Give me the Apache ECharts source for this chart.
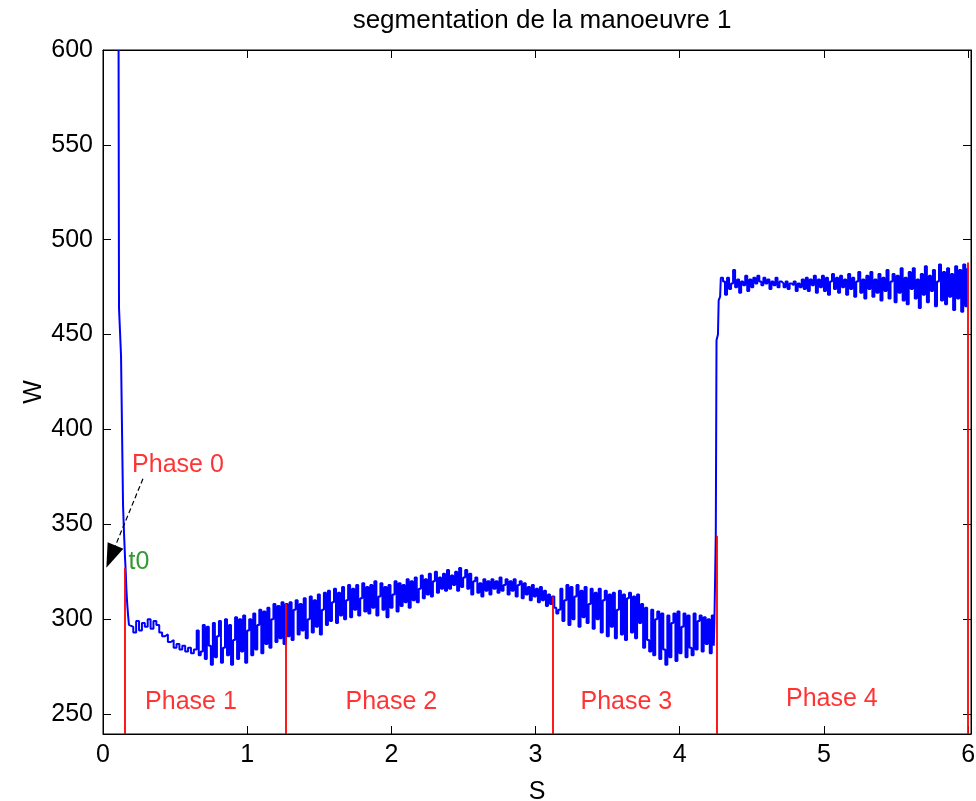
<!DOCTYPE html>
<html><head><meta charset="utf-8">
<script src="https://cdn.jsdelivr.net/npm/echarts@6/dist/echarts.min.js"></script>
<style>html,body{margin:0;padding:0;background:#fff}#c{width:976px;height:801px}</style>
</head><body><div id="c"></div><script>
const titleText = 'segmentation de la manoeuvre 1';
const xName = 'S';
const yName = 'W';
const xTicks = [0, 1, 2, 3, 4, 5, 6];
const yTicks = [250, 300, 350, 400, 450, 500, 550, 600];

// initial transient (time, watts)
const transientT = [0.108, 0.111, 0.122, 0.125, 0.136, 0.139, 0.146, 0.153, 0.157, 0.162, 0.168, 0.174, 0.180];
const transientW = [600, 464, 463, 439, 438, 360, 345, 332, 326, 316, 308, 302, 297];

const settleStep = 0.02;
const settleStart = 0.19;
const settleW = [296, 293, 299, 294, 298, 296, 300, 295, 299, 297, 293, 291, 292, 288, 289, 285, 287, 284, 286, 283, 285, 282, 284];

const oscStep = 0.014;
const phase1Start = 0.65;
const phase1W = [294, 281, 283, 297, 279, 296, 286, 276, 298, 280,
  291, 299, 277, 285, 300, 281, 297, 276, 289, 301,
  279, 300, 283, 302, 277, 294, 300, 281, 303, 284,
  297, 305, 282, 304, 287, 306, 285, 300, 308, 288,
  307, 290, 309, 287, 308];

const phase2Start = 1.28;
const phase2W = [291, 309, 289, 305, 310, 292, 308, 294, 311, 290,
  300, 312, 293, 310, 296, 313, 292, 305, 314, 297,
  315, 299, 309, 316, 298, 314, 302, 317, 300, 310,
  318, 301, 316, 305, 318, 302, 311, 319, 304, 317,
  303, 318, 306, 320, 302, 312, 319, 305, 317, 301,
  318, 306, 313, 320, 304, 319, 307, 318, 309, 321,
  306, 320, 310, 322, 309, 316, 323, 311, 321, 313,
  324, 312, 320, 325, 314, 322, 316, 324, 315, 326,
  316, 323, 318, 325, 315, 327, 317, 322, 326, 316,
  324, 313, 320, 322, 314, 319, 312, 321, 315, 320,
  313, 321, 316, 320, 314, 322, 315, 318, 321, 313,
  320, 315, 321, 312, 318, 320, 311, 319, 313, 317,
  310, 318, 312, 316, 309, 317, 310, 315, 307, 313,
  308, 312];

const phase3Start = 3.13;
const phase3W = [306, 303, 305, 316, 299, 310, 318, 297, 317, 300,
  312, 318, 296, 315, 301, 317, 298, 308, 316, 295,
  314, 300, 316, 293, 310, 315, 291, 313, 296, 314,
  290, 305, 315, 292, 313, 289, 311, 314, 293, 312,
  290, 313, 298, 308, 285, 306, 289, 283, 305, 281,
  300, 304, 279, 303, 284, 276, 302, 280, 298, 303,
  278, 304, 282, 296, 303, 280, 302, 285, 281, 303,
  284, 299, 302, 283, 301, 287, 300, 282, 302, 286];

const jumpT = [4.240, 4.245, 4.250, 4.255, 4.265, 4.270, 4.280, 4.285];
const jumpW = [298, 320, 345, 447, 450, 468, 470, 480];

const phase4Start = 4.30;
const phase4W = [478, 471, 480, 474, 477, 484, 475, 479, 472, 478,
  476, 481, 473, 479, 475, 480, 477, 481, 478, 476,
  480, 477, 479, 474, 478, 476, 480, 475, 478, 477,
  475, 478, 474, 477, 476, 478, 473, 477, 475, 479,
  474, 480, 473, 479, 476, 481, 472, 479, 475, 481,
  473, 480, 471, 478, 482, 474, 480, 472, 481, 475,
  479, 471, 482, 474, 480, 470, 478, 483, 472, 479,
  469, 481, 474, 483, 470, 479, 472, 482, 468, 480,
  473, 484, 469, 478, 482, 467, 481, 472, 485, 468,
  480, 466, 483, 474, 485, 469, 479, 464, 482, 471,
  486, 467, 481, 473, 484, 465, 478, 487, 468, 483,
  466, 485, 470, 482, 463, 486, 469, 484, 462, 487,
  465, 485];

// phase boundaries (red vertical lines)
const boundaryT = [0.153, 1.27, 3.12, 4.258, 6.0];
const boundaryTop = [327, 308, 312, 344, 488];

// annotations
const phaseLabels = ['Phase 0', 'Phase 1', 'Phase 2', 'Phase 3', 'Phase 4'];
const phaseLabelT = [0.52, 0.61, 2.0, 3.63, 5.055];
const phaseLabelW = [381.3, 256.5, 256.5, 256.5, 258];
const t0Label = 't0';
const t0Pos = [0.25, 330];
const arrowFrom = [0.277, 374];
const arrowTo = [0.055, 333];

const X_MIN = 0, X_MAX = 6.02, Y_MIN = 239.5, Y_MAX = 600;

function seg(start, st, vals) { return vals.map((v, i) => [+(start + i * st).toFixed(4), v]); }
const signal = []
  .concat(transientT.map((t, i) => [t, transientW[i]]))
  .concat(seg(settleStart, settleStep, settleW))
  .concat(seg(phase1Start, oscStep, phase1W))
  .concat(seg(phase2Start, oscStep, phase2W))
  .concat(seg(phase3Start, oscStep, phase3W))
  .concat(jumpT.map((t, i) => [t, jumpW[i]]))
  .concat(seg(phase4Start, oscStep, phase4W));

const FONT = 'Liberation Sans, Arial, Helvetica, sans-serif';
const axisLineStyle = { show: true, onZero: false, lineStyle: { color: '#000', width: 1 } };
const tickStyle = (vals) => ({ show: true, inside: true, length: 8, customValues: vals, lineStyle: { color: '#000', width: 1 } });

const chart = echarts.init(document.getElementById('c'), null, { renderer: 'canvas' });
chart.setOption({
  animation: false,
  backgroundColor: '#fff',
  title: {
    text: titleText, left: 537, top: 3, textAlign: 'center',
    textStyle: { fontFamily: FONT, fontSize: 26, fontWeight: 'normal', color: '#000' }
  },
  grid: { left: 103, right: 5, top: 50, bottom: 67, containLabel: false, outerBoundsMode: 'none',
    show: true, borderColor: '#000', borderWidth: 1, backgroundColor: 'transparent' },
  xAxis: [
    {
      type: 'value', min: X_MIN, max: X_MAX, position: 'bottom',
      name: xName, nameLocation: 'middle', nameGap: 46,
      nameTextStyle: { fontFamily: FONT, fontSize: 25, color: '#000' },
      axisLine: axisLineStyle, splitLine: { show: false },
      axisTick: tickStyle(xTicks),
      axisLabel: { show: true, customValues: xTicks, margin: 9, fontFamily: FONT, fontSize: 25, color: '#000' }
    },
    {
      type: 'value', min: X_MIN, max: X_MAX, position: 'top',
      axisLine: axisLineStyle, splitLine: { show: false },
      axisTick: tickStyle(xTicks),
      axisLabel: { show: false }
    }
  ],
  yAxis: [
    {
      type: 'value', min: Y_MIN, max: Y_MAX, position: 'left',
      name: yName, nameLocation: 'middle', nameGap: 56, nameRotate: 90, nameMoveOverlap: false,
      nameTextStyle: { fontFamily: FONT, fontSize: 25, color: '#000' },
      axisLine: axisLineStyle, splitLine: { show: false },
      axisTick: tickStyle(yTicks),
      axisLabel: { show: true, customValues: yTicks, margin: 10, fontFamily: FONT, fontSize: 25, color: '#000' }
    },
    {
      type: 'value', min: Y_MIN, max: Y_MAX, position: 'right',
      axisLine: axisLineStyle, splitLine: { show: false },
      axisTick: tickStyle(yTicks),
      axisLabel: { show: false }
    }
  ],
  series: [
    {
      name: 'signal', type: 'line', data: signal, showSymbol: false, symbol: 'none', step: 'end',
      lineStyle: { color: '#0000ff', width: 2 }, silent: true, z: 2
    },
    {
      name: 'boundaries', type: 'line', data: [], silent: true, z: 3,
      markLine: {
        silent: true, symbol: ['none', 'none'], animation: false,
        label: { show: false },
        lineStyle: { color: '#ff0000', width: 1.8, type: 'solid' },
        data: boundaryT.map((t, i) => [{ coord: [t, Y_MIN] }, { coord: [t, boundaryTop[i]] }])
      }
    },
    {
      name: 'arrow', type: 'line', data: [], silent: true, z: 4,
      markLine: {
        silent: true, symbol: ['none', 'triangle'], symbolSize: [17, 24], animation: false,
        label: { show: false },
        lineStyle: { color: '#000', width: 1.2, type: [5, 3] },
        itemStyle: { color: '#000' },
        data: [[{ coord: arrowFrom }, { coord: arrowTo }]]
      }
    },
    {
      name: 'labels', type: 'scatter', symbolSize: 1, silent: true, z: 5,
      itemStyle: { color: 'rgba(0,0,0,0)' },
      label: {
        show: true, position: 'inside', fontFamily: FONT, fontSize: 25,
        formatter: p => p.data.name
      },
      data: phaseLabels.map((n, i) => ({ name: n, value: [phaseLabelT[i], phaseLabelW[i]], label: { color: '#ff0000' } }))
        .concat([{ name: t0Label, value: t0Pos, label: { color: '#008000' } }])
    }
  ]
});
</script></body></html>
